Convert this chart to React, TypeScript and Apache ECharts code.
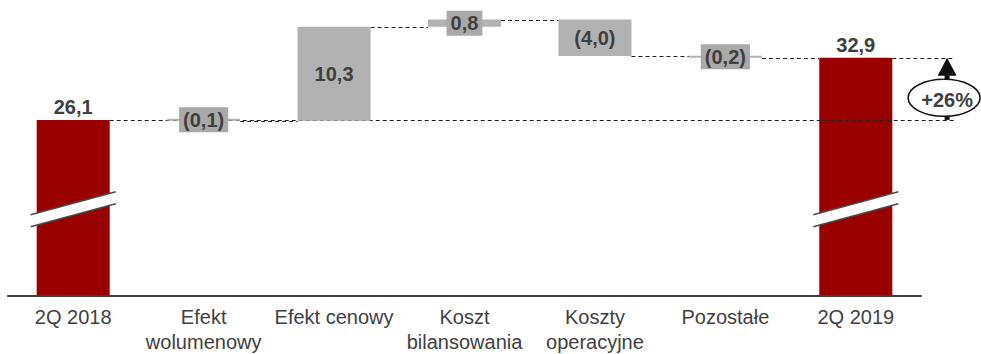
import React, { useEffect, useRef } from "react";
import * as echarts from "echarts";

// Bridge of the quarterly result: opening level, the drivers, closing level
const categories = [
  "2Q 2018",
  "Efekt\nwolumenowy",
  "Efekt cenowy",
  "Koszt\nbilansowania",
  "Koszty\noperacyjne",
  "Pozostałe",
  "2Q 2019",
];
const openingValue = 26.1;
const changes = [-0.1, 10.3, 0.8, -4.0, -0.2];
const closingValue = 32.9;

// Value axis window (the axis is broken below the totals)
const axisMin = 6.8;
const axisMax = 38.8;
const breakAt = 16.3;

const FONT = "'Liberation Sans', Arial, sans-serif";
const TEXT = "#3f3f3f";
const RED = "#990000";
const GREY = "#b2b2b2";
const BOX = "#a9a9a9";
const BAR_SHARE = 0.56;

const fmt = (v: number) => {
  const s = Math.abs(v).toFixed(1).replace(".", ",");
  return v < 0 ? `(${s})` : s;
};

// crisp 1px horizontal line position
const crisp = (y: number) => Math.round(y) + 0.5;

export default function App() {
  const ref = useRef<HTMLDivElement>(null);

  useEffect(() => {
    document.body.style.margin = "0";
    if (!ref.current) return;
    const chart = echarts.init(ref.current, undefined, { renderer: "svg" });

    // running level after each step
    let acc = openingValue;
    const steps = changes.map((c) => {
      const from = acc;
      acc = +(acc + c).toFixed(1);
      return { from, to: acc };
    });

    const last = categories.length - 1;
    const none = "-";
    const totals: any[] = categories.map((_, i) =>
      i === 0 ? openingValue : i === last ? closingValue : none
    );
    const bases: any[] = categories.map((_, i) =>
      i === 0 || i === last ? none : Math.min(steps[i - 1].from, steps[i - 1].to)
    );
    const deltas: any[] = categories.map((_, i) => {
      if (i === 0 || i === last) return none;
      const c = changes[i - 1];
      const item: any = { value: Math.abs(c) };
      if (Math.abs(c) < 1) {
        item.label = { backgroundColor: BOX, padding: [3, 4, 2, 4] };
      }
      return item;
    });

    // connector from bar k+1 (right edge) to bar k+2 (left edge) at the level after step k
    const connectorData = steps.map((s, k) => [k + 1, s.to]);
    // reference lines running out to the growth arrow
    const referenceData = [
      [0, openingValue],
      [last, closingValue],
    ];
    const growth = Math.round((closingValue / openingValue - 1) * 100);
    const growthText = `${growth >= 0 ? "+" : ""}${growth}%`;

    const arrowX = (api: any) => {
      const cw = api.size([1, 0])[0];
      return api.coord([last, closingValue])[0] + cw * 0.7;
    };

    const dashed = { stroke: "#222222", lineWidth: 1, lineDash: [4, 3] };

    chart.setOption({
      animation: false,
      grid: { left: 8, right: 60, top: 4, bottom: 58, containLabel: false, outerBoundsMode: "none" },
      xAxis: {
        type: "category",
        data: categories,
        axisLine: { show: true, lineStyle: { color: "#404040", width: 2 } },
        axisTick: { show: false },
        axisLabel: {
          interval: 0,
          margin: 8,
          color: TEXT,
          fontFamily: FONT,
          fontSize: 20,
          lineHeight: 25,
        },
        z: 10,
      },
      yAxis: { type: "value", min: axisMin, max: axisMax, show: false, splitLine: { show: false } },
      series: [
        {
          name: "totals",
          type: "bar",
          stack: "w",
          barWidth: `${BAR_SHARE * 100}%`,
          z: 1,
          itemStyle: { color: RED },
          label: {
            show: true,
            position: "top",
            distance: 3,
            formatter: (p: any) => fmt(p.value),
            color: TEXT,
            fontFamily: FONT,
            fontSize: 20,
            fontWeight: "bold",
          },
          data: totals,
        },
        {
          name: "connectors",
          type: "custom",
          z: 2,
          clip: false,
          silent: true,
          data: connectorData,
          renderItem: (params: any, api: any) => {
            const i = api.value(0);
            const [x, y0] = api.coord([i, api.value(1)]);
            const y = crisp(y0);
            const cw = api.size([1, 0])[0];
            const half = (cw * BAR_SHARE) / 2;
            return {
              type: "line",
              shape: { x1: x + half, y1: y, x2: x + cw - half, y2: y },
              style: dashed,
            };
          },
        },
        {
          name: "reference",
          type: "custom",
          z: 2,
          clip: false,
          silent: true,
          data: referenceData,
          renderItem: (params: any, api: any) => {
            const i = api.value(0);
            const [x, y0] = api.coord([i, api.value(1)]);
            const y = crisp(y0);
            const cw = api.size([1, 0])[0];
            const half = (cw * BAR_SHARE) / 2;
            return {
              type: "line",
              shape: { x1: x + half, y1: y, x2: arrowX(api) + 8, y2: y },
              style: dashed,
            };
          },
        },
        {
          name: "base",
          type: "bar",
          stack: "w",
          z: 3,
          silent: true,
          itemStyle: { color: "transparent" },
          data: bases,
        },
        {
          name: "delta",
          type: "bar",
          stack: "w",
          z: 3,
          barMinHeight: 2,
          itemStyle: { color: GREY },
          label: {
            show: true,
            position: "inside",
            formatter: (p: any) => fmt(changes[p.dataIndex - 1]),
            color: TEXT,
            fontFamily: FONT,
            fontSize: 20,
            fontWeight: "bold",
          },
          data: deltas,
        },
        {
          name: "breaks",
          type: "custom",
          z: 4,
          clip: false,
          silent: true,
          data: [
            [0, breakAt],
            [last, breakAt],
          ],
          renderItem: (params: any, api: any) => {
            const [cx, cy] = api.coord([api.value(0), api.value(1)]);
            const cw = api.size([1, 0])[0];
            const w = (cw * BAR_SHARE) / 2 + 6;
            const s = 0.27;
            const g = 6;
            const ul = [cx - w, cy - g + s * w];
            const ur = [cx + w, cy - g - s * w];
            const ll = [cx - w, cy + g + s * w];
            const lr = [cx + w, cy + g - s * w];
            const line = { stroke: "#4a4a4a", lineWidth: 1.5 };
            return {
              type: "group",
              children: [
                { type: "polygon", shape: { points: [ul, ur, lr, ll] }, style: { fill: "#ffffff" } },
                { type: "line", shape: { x1: ul[0], y1: ul[1], x2: ur[0], y2: ur[1] }, style: line },
                { type: "line", shape: { x1: ll[0], y1: ll[1], x2: lr[0], y2: lr[1] }, style: line },
              ],
            };
          },
        },
        {
          name: "growth",
          type: "custom",
          z: 5,
          clip: false,
          silent: true,
          data: [[last, openingValue, closingValue]],
          renderItem: (params: any, api: any) => {
            const x = arrowX(api);
            const yBase = api.coord([last, api.value(1)])[1];
            const yTop = api.coord([last, api.value(2)])[1];
            const headH = 18;
            const headW = 9.5;
            const yHead = yTop + headH;
            const cy = (yHead + yBase) / 2;
            return {
              type: "group",
              children: [
                { type: "rect", shape: { x: x - 2.5, y: yHead - 1, width: 5, height: yBase - yHead + 1 }, style: { fill: "#111111" } },
                {
                  type: "polygon",
                  shape: { points: [[x, yTop], [x + headW, yHead], [x - headW, yHead]] },
                  style: { fill: "#111111" },
                },
                {
                  type: "ellipse",
                  shape: { cx: x - 3, cy, rx: 36, ry: 18.5 },
                  style: { fill: "#ffffff", stroke: "#111111", lineWidth: 1.5 },
                },
                {
                  type: "text",
                  x: x,
                  y: cy + 2,
                  style: {
                    text: growthText,
                    fill: TEXT,
                    font: `bold 20px ${FONT}`,
                    align: "center",
                    verticalAlign: "middle",
                  },
                },
              ],
            };
          },
        },
      ],
    });

    return () => chart.dispose();
  }, []);

  return <div ref={ref} style={{ width: 981, height: 354 }} />;
}
